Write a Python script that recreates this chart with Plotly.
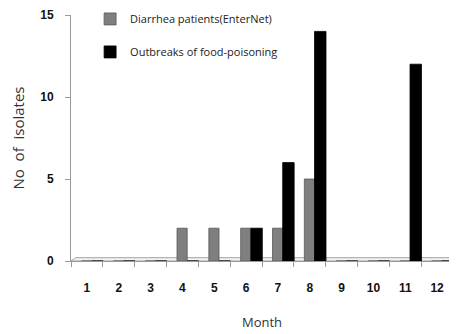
import plotly.graph_objects as go

months = [str(m) for m in range(1, 13)]
diarrhea = [0, 0, 0, 2, 2, 2, 2, 5, 0, 0, 0, 0]
outbreaks = [0, 0, 0, 0, 0, 2, 6, 14, 0, 0, 12, 0]
y_ticks = [0, 5, 10, 15]

fig = go.Figure()
fig.add_trace(go.Bar(
    x=months, y=diarrhea, name="Diarrhea patients(EnterNet)",
    marker=dict(color="#7f7f7f", line=dict(color="#5a5a5a", width=0.8)),
    offset=-0.17, width=0.32, legendgroup="a",
))
fig.add_trace(go.Bar(
    x=months, y=outbreaks, name="Outbreaks of food-poisoning",
    marker=dict(color="#000000", line=dict(color="#000000", width=0.8)),
    offset=0.15, width=0.36, legendgroup="b",
))

# 3D-style floor
fig.add_shape(type="path", xref="x", yref="y",
              path="M -0.5,0 L 11.5,0 L 11.65,0.2 L -0.35,0.2 Z",
              line=dict(color="#a0a0a0", width=1), fillcolor="#f4f4f4", layer="below")

fig.update_layout(
    width=449, height=326,
    margin=dict(l=63, r=4, t=7, b=73, autoexpand=False),
    paper_bgcolor="white", plot_bgcolor="white",
    barmode="overlay",
    font=dict(family="Liberation Sans, Arial", color="#000"),
    legend=dict(x=0.05, y=1.043, xanchor="left", yanchor="top",
                font=dict(size=11, family="Open Sans, Liberation Sans", color="#222"),
                tracegroupgap=14, bgcolor="rgba(0,0,0,0)", itemwidth=30),
    xaxis=dict(
        type="category", tickson="boundaries", ticks="outside", ticklen=5,
        tickcolor="#999", showline=True, linecolor="#999", linewidth=1,
        showgrid=False, ticklabelstandoff=16, automargin=False,
        tickfont=dict(size=12, family="Liberation Sans", color="#111", weight="bold"),
        title=dict(text="Month", font=dict(size=13, family="Open Sans, Liberation Sans", color="#333"), standoff=23),
        range=[-0.5, 11.5],
    ),
    yaxis=dict(
        range=[0, 15], tickvals=y_ticks, ticks="outside", ticklen=5,
        tickcolor="#999", showline=True, linecolor="#999", linewidth=1,
        showgrid=False, zeroline=False, automargin=False, ticklabelstandoff=9,
        tickfont=dict(size=12, family="Liberation Sans", color="#111", weight="bold"),
        title=dict(text="No  of  isolates", font=dict(size=15, family="Open Sans, Liberation Sans", color="#333"), standoff=12),
    ),
)

fig.write_html("out.html")
